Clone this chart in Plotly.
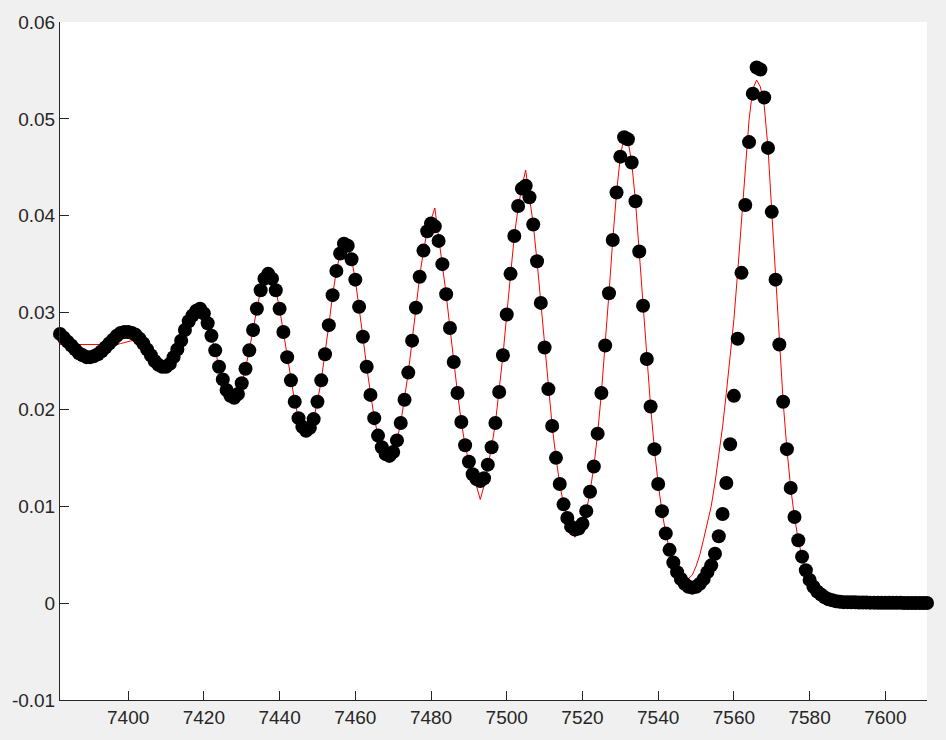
import plotly.graph_objects as go

# wavelength grid (one sample per unit)
wavelength = list(range(7382, 7612))

# measured intensities (black dots)
measured = [
    0.0278, 0.0274, 0.0270, 0.0266, 0.0262, 0.0258, 0.0256, 0.0254, 0.0254, 0.0255,
    0.0257, 0.0260, 0.0264, 0.0268, 0.0272, 0.0276, 0.0279, 0.0280, 0.0280, 0.0279,
    0.0277, 0.0273, 0.0268, 0.0262, 0.0256, 0.0250, 0.0246, 0.0244, 0.0244, 0.0247,
    0.0254, 0.0262, 0.0271, 0.0282, 0.0291, 0.0297, 0.0302, 0.0304, 0.0299, 0.0289,
    0.0276, 0.0261, 0.0244, 0.0231, 0.0220, 0.0214, 0.0212, 0.0216, 0.0227, 0.0242,
    0.0261, 0.0282, 0.0304, 0.0323, 0.0335, 0.0340, 0.0335, 0.0323, 0.0304, 0.0280,
    0.0254, 0.0230, 0.0208, 0.0191, 0.0182, 0.0178, 0.0181, 0.0190, 0.0208, 0.0230,
    0.0257, 0.0287, 0.0318, 0.0343, 0.0361, 0.0371, 0.0369, 0.0355, 0.0334, 0.0306,
    0.0275, 0.0244, 0.0215, 0.0191, 0.0173, 0.0161, 0.0154, 0.0152, 0.0156, 0.0168,
    0.0186, 0.0210, 0.0238, 0.0271, 0.0305, 0.0337, 0.0364, 0.0384, 0.0392, 0.0389,
    0.0374, 0.0350, 0.0319, 0.0284, 0.0249, 0.0217, 0.0187, 0.0163, 0.0146, 0.0133,
    0.0128, 0.0126, 0.0129, 0.0143, 0.0161, 0.0186, 0.0218, 0.0256, 0.0298, 0.0340,
    0.0379, 0.0410, 0.0428, 0.0431, 0.0419, 0.0391, 0.0353, 0.0310, 0.0264, 0.0221,
    0.0183, 0.0150, 0.0123, 0.0102, 0.0088, 0.0079, 0.0076, 0.0077, 0.0082, 0.0095,
    0.0115, 0.0141, 0.0175, 0.0217, 0.0266, 0.0320, 0.0375, 0.0424, 0.0461, 0.0481,
    0.0479, 0.0455, 0.0415, 0.0363, 0.0307, 0.0252, 0.0203, 0.0159, 0.0123, 0.0095,
    0.0072, 0.0055, 0.0042, 0.0032, 0.0025, 0.0020, 0.0017, 0.0016, 0.0017, 0.0020,
    0.0025, 0.0032, 0.0039, 0.0051, 0.0069, 0.0092, 0.0124, 0.0164, 0.0214, 0.0273,
    0.0341, 0.0411, 0.0476, 0.0526, 0.0553, 0.0551, 0.0522, 0.0470, 0.0404, 0.0334,
    0.0267, 0.0208, 0.0159, 0.0119, 0.0089, 0.0065, 0.0048, 0.0034, 0.0024, 0.0017,
    0.0012, 0.0009, 0.0006, 0.0004, 0.0003, 0.0002, 0.00015, 0.0001, 0.0001, 0.00009,
    0.00008, 0.00007, 0.00006, 0.00006, 0.00005, 0.00005, 0.00004, 0.00004, 0.00004, 0.00003,
    0.00003, 0.00003, 0.00003, 0.00002, 0.00002, 0.00002, 0.00002, 0.00002, 0.00002, 0.00002,
]

# fitted model (red line)
fitted = [
    0.0267, 0.0267, 0.0267, 0.0267, 0.0267, 0.0267, 0.0267, 0.0267, 0.0267, 0.0267,
    0.0267, 0.0267, 0.0267, 0.0267, 0.0267, 0.0267, 0.0268, 0.0269, 0.0270, 0.0271,
    0.0271, 0.0269, 0.0266, 0.0262, 0.0258, 0.0254, 0.0251, 0.0250, 0.0251, 0.0254,
    0.0259, 0.0265, 0.0272, 0.0281, 0.0290, 0.0297, 0.0302, 0.0304, 0.0299, 0.0289,
    0.0276, 0.0261, 0.0244, 0.0231, 0.0220, 0.0214, 0.0212, 0.0216, 0.0227, 0.0242,
    0.0261, 0.0282, 0.0304, 0.0323, 0.0335, 0.0340, 0.0335, 0.0323, 0.0304, 0.0280,
    0.0254, 0.0230, 0.0208, 0.0191, 0.0182, 0.0178, 0.0181, 0.0190, 0.0208, 0.0230,
    0.0257, 0.0287, 0.0318, 0.0343, 0.0361, 0.0372, 0.0369, 0.0355, 0.0334, 0.0306,
    0.0275, 0.0244, 0.0215, 0.0191, 0.0173, 0.0161, 0.0154, 0.0152, 0.0156, 0.0168,
    0.0186, 0.0210, 0.0238, 0.0271, 0.0305, 0.0337, 0.0364, 0.0384, 0.0396, 0.0408,
    0.0378, 0.0350, 0.0319, 0.0284, 0.0249, 0.0217, 0.0187, 0.0163, 0.0146, 0.0131,
    0.0121, 0.0107, 0.0121, 0.0141, 0.0161, 0.0186, 0.0218, 0.0256, 0.0298, 0.0340,
    0.0379, 0.0408, 0.0430, 0.0447, 0.0421, 0.0391, 0.0353, 0.0310, 0.0264, 0.0221,
    0.0183, 0.0150, 0.0123, 0.0102, 0.0088, 0.0078, 0.0068, 0.0076, 0.0082, 0.0095,
    0.0115, 0.0141, 0.0175, 0.0217, 0.0266, 0.0320, 0.0375, 0.0424, 0.0461, 0.0482,
    0.0478, 0.0455, 0.0415, 0.0363, 0.0307, 0.0252, 0.0203, 0.0159, 0.0123, 0.0095,
    0.0072, 0.0055, 0.0042, 0.0032, 0.0026, 0.0022, 0.0026, 0.0029, 0.0038, 0.0050,
    0.0066, 0.0082, 0.0100, 0.0124, 0.0151, 0.0182, 0.0217, 0.0254, 0.0293, 0.0342,
    0.0393, 0.0450, 0.0499, 0.0531, 0.0540, 0.0533, 0.0514, 0.0470, 0.0404, 0.0334,
    0.0267, 0.0208, 0.0159, 0.0119, 0.0089, 0.0065, 0.0048, 0.0034, 0.0024, 0.0017,
    0.0012, 0.0009, 0.0006, 0.0004, 0.0003, 0.0002, 0.00015, 0.0001, 0.0001, 0.00009,
    0.00008, 0.00007, 0.00006, 0.00006, 0.00005, 0.00005, 0.00004, 0.00004, 0.00004, 0.00003,
    0.00003, 0.00003, 0.00003, 0.00002, 0.00002, 0.00002, 0.00002, 0.00002, 0.00002, 0.00002,
]

x_ticks = [7400, 7420, 7440, 7460, 7480, 7500, 7520, 7540, 7560, 7580, 7600]
y_ticks = [-0.01, 0, 0.01, 0.02, 0.03, 0.04, 0.05, 0.06]
y_tick_text = ["-0.01", "0", "0.01", "0.02", "0.03", "0.04", "0.05", "0.06"]

axis_color = "#262626"
font_family = "Liberation Sans, Arial, Helvetica, sans-serif"

fig = go.Figure()
fig.add_trace(go.Scatter(
    x=wavelength, y=fitted, mode="lines",
    line=dict(color="#ff0000", width=1),
    showlegend=False, hoverinfo="skip",
))
fig.add_trace(go.Scatter(
    x=wavelength, y=measured, mode="markers",
    marker=dict(color="#000000", size=14, line=dict(width=0)),
    cliponaxis=False, showlegend=False,
))

fig.update_layout(
    width=946, height=740,
    margin=dict(l=59, r=19, t=15, b=40, pad=0),
    paper_bgcolor="#f0f0f0",
    plot_bgcolor="#ffffff",
    font=dict(family=font_family, size=19, color=axis_color),
)
fig.update_xaxes(
    range=[7382, 7611], tickvals=x_ticks, ticks="inside", ticklen=9,
    tickcolor=axis_color, tickwidth=1, showline=True, linecolor=axis_color,
    linewidth=1, showgrid=False, zeroline=False, mirror=False,
    tickfont=dict(size=19, color=axis_color, family=font_family),
)
fig.update_yaxes(
    range=[-0.01, 0.06], tickvals=y_ticks, ticktext=y_tick_text,
    ticks="inside", ticklen=9, tickcolor=axis_color, tickwidth=1,
    showline=True, linecolor=axis_color, linewidth=1, showgrid=False,
    zeroline=False, mirror=False,
    tickfont=dict(size=19, color=axis_color, family=font_family),
)

fig.write_html(
    "out.html",
    config={"displayModeBar": False},
    post_script="document.body.style.margin='0';document.body.style.background='#f0f0f0';",
)
